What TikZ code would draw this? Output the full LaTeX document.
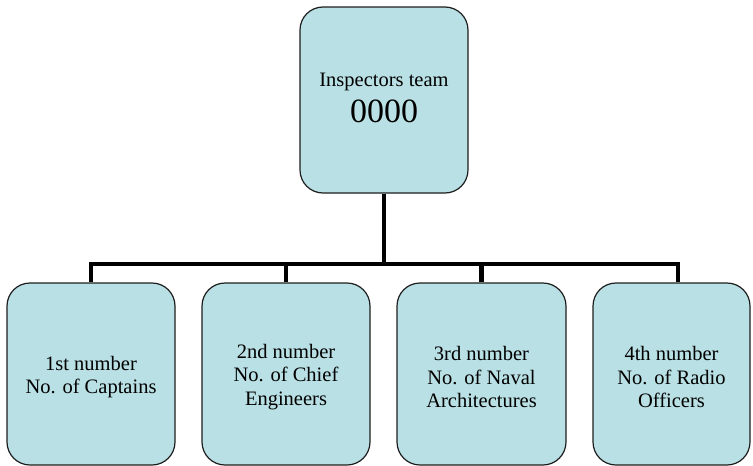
\documentclass[tikz,border=0pt]{standalone}
\usepackage{fontspec}
\setmainfont{Liberation Serif}
\definecolor{boxfill}{RGB}{185,224,228}
\definecolor{boxline}{RGB}{30,30,30}
\begin{document}
\begin{tikzpicture}[x=1pt,y=-1pt,
  orgbox/.style={draw=boxline, line width=1.2pt, fill=boxfill, rounded corners=23pt,
    inner sep=0pt},
  orgtext/.style={inner sep=0pt, align=center, font=\fontsize{20.5}{23.5}\selectfont},
  link/.style={line width=4.2pt, black}]
\useasboundingbox (0,0) rectangle (753,466);
\node[orgbox, minimum width=168pt, minimum height=186pt] (top) at (384,100) {};
\node[orgbox, minimum width=168pt, minimum height=182pt] (b1) at (91,374) {};
\node[orgbox, minimum width=168pt, minimum height=182pt] (b2) at (286,374) {};
\node[orgbox, minimum width=169pt, minimum height=182pt] (b3) at (481.5,374) {};
\node[orgbox, minimum width=157pt, minimum height=182pt] (b4) at (671.5,374) {};
\node[orgtext] (ttop) at ([yshift=2pt]top.center)
  {Inspectors team\\[8pt]{\fontsize{34}{36}\selectfont 0000}};
\node[orgtext] (t1) at ([yshift=-3pt]b1.center) {1st number\\No. of Captains};
\node[orgtext] (t2) at ([yshift=-3pt]b2.center) {2nd number\\No. of Chief\\Engineers};
\node[orgtext] (t3) at ([yshift=-3pt]b3.center) {3rd number\\No. of Naval\\Architectures};
\node[orgtext] (t4) at ([yshift=-3pt]b4.center) {4th number\\No. of Radio\\Officers};
\coordinate (bar) at (384,264);
\draw[link] (top.south) -- (bar);
\draw[link] (b1.north) |- (bar) -| ([xshift=6.5pt]b4.north);
\draw[link] (b2.north) -- (b2.north |- bar);
\draw[link] (b3.north) -- (b3.north |- bar);
\end{tikzpicture}
\end{document}
